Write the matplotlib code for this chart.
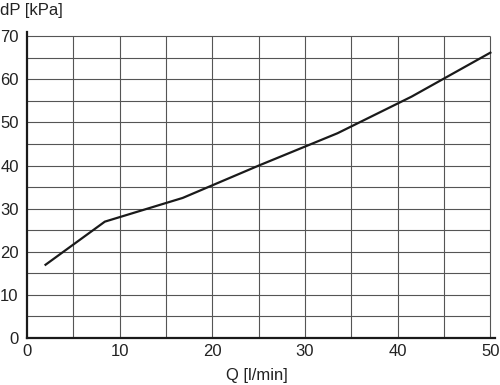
import matplotlib.pyplot as plt

# Pressure drop curve
flow = [2, 8.4, 16.8, 25, 33.5, 41.5, 50]
dp = [17, 27, 32.5, 40, 47.5, 56, 66.2]

x_ticks = [0, 10, 20, 30, 40, 50]
y_ticks = [0, 10, 20, 30, 40, 50, 60, 70]
x_grid = [5, 10, 15, 20, 25, 30, 35, 40, 45, 50]
y_grid = [5, 10, 15, 20, 25, 30, 35, 40, 45, 50, 55, 60, 65, 70]

plt.rcParams['font.family'] = ['Liberation Sans', 'DejaVu Sans']

fig = plt.figure(figsize=(5, 3.85), dpi=100)
ax = fig.add_axes([0.054, 0.122, 0.936, 0.795])

ax.set_xlim(0, 50.5)
ax.set_ylim(0, 71)

# grid only over the data range
ax.hlines(y_grid, 0, 50, color="#555555", linewidth=0.8, zorder=1)
ax.vlines(x_grid, 0, 70, color="#555555", linewidth=0.8, zorder=1)

ax.plot(flow, dp, color="#1a1a1a", linewidth=1.6, zorder=3)

ax.set_xticks(x_ticks)
ax.set_yticks(y_ticks)
ax.tick_params(axis="both", length=0, labelsize=12, colors="#222222")
ax.tick_params(axis="x", pad=4)
ax.tick_params(axis="y", pad=6)

for side in ["top", "right"]:
    ax.spines[side].set_visible(False)
for side in ["left", "bottom"]:
    ax.spines[side].set_linewidth(1.6)
    ax.spines[side].set_color("#1a1a1a")

fig.text(0.0, 0.972, "dP [kPa]", fontsize=12, ha="left", va="center", color="#222222")
fig.text(0.513, 0.025, "Q [l/min]", fontsize=12, ha="center", va="center", color="#222222")

fig.savefig("out.png", dpi=100)
